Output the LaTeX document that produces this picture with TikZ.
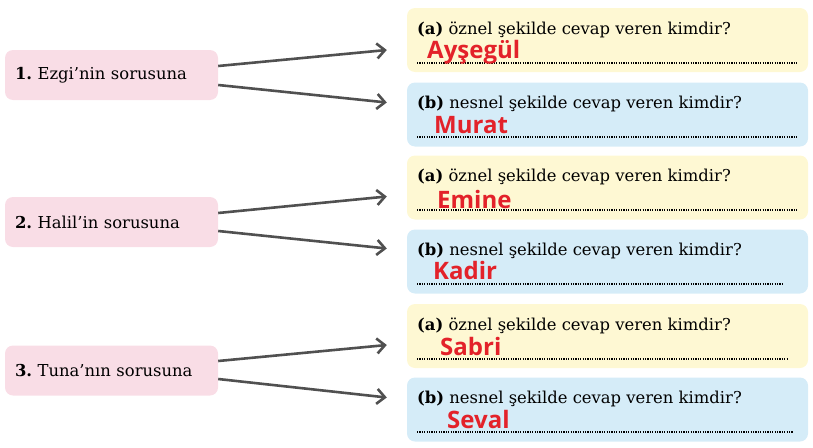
\documentclass[tikz,border=0pt]{standalone}
\usepackage{fontspec}
\setmainfont{DejaVu Serif}
\newfontfamily\answerfont{Open Sans}
\usepackage{xcolor}
\usetikzlibrary{arrows.meta}
\frenchspacing

\definecolor{pinkbox}{HTML}{F9DDE6}
\definecolor{yellowbox}{HTML}{FEF8D3}
\definecolor{bluebox}{HTML}{D5ECF8}
\definecolor{arrowgray}{HTML}{505050}
\definecolor{answerred}{HTML}{E3222A}

\begin{document}
\begin{tikzpicture}[x=1pt, y=-1pt,
  every node/.style = {inner sep=0pt, font=\fontsize{16.4}{19}\selectfont},
  namebox/.style = {shape=rectangle, rounded corners=8pt, fill=pinkbox, text width=193pt, inner xsep=10pt, align=left, minimum height=50pt},
  abox/.style = {shape=rectangle, rounded corners=8pt, fill=yellowbox, minimum width=401pt, minimum height=64pt},
  bbox/.style = {abox, fill=bluebox},
  question/.style = {anchor=base west},
  answer/.style = {anchor=base west, text=answerred, font=\answerfont\bfseries\fontsize{24}{27}\selectfont},
  dotline/.style = {line width=1.3pt, dash pattern=on 1.2pt off 1.2pt},
  arrow/.style = {draw=arrowgray, line width=2.6pt, -{Straight Barb[length=8pt, width=15pt]}},
]
\useasboundingbox (0,0) rectangle (813,447);

% left column
\node[namebox] (ezgi) at (111.5,75) {\textbf{1.} Ezgi’nin sorusuna};
\node[namebox] (halil) at (111.5,222) {\textbf{2.} Halil’in sorusuna};
\node[namebox] (tuna) at (111.5,370.5) {\textbf{3.} Tuna’nın sorusuna};

% right column
\node[abox] (ezgiA) at (607.5,40) {};
\node[bbox] (ezgiB) at (607.5,114.5) {};
\node[abox] (halilA) at (607.5,187.5) {};
\node[bbox] (halilB) at (607.5,261.5) {};
\node[abox] (tunaA) at (607.5,336) {};
\node[bbox] (tunaB) at (607.5,409.5) {};

\node[question] (ezgiAq) at (417,34) {\textbf{(a)} öznel şekilde cevap veren kimdir?};
\node[question] (ezgiBq) at (417,108) {\textbf{(b)} nesnel şekilde cevap veren kimdir?};
\node[question] (halilAq) at (417,181) {\textbf{(a)} öznel şekilde cevap veren kimdir?};
\node[question] (halilBq) at (417,255) {\textbf{(b)} nesnel şekilde cevap veren kimdir?};
\node[question] (tunaAq) at (417,330) {\textbf{(a)} öznel şekilde cevap veren kimdir?};
\node[question] (tunaBq) at (417,403) {\textbf{(b)} nesnel şekilde cevap veren kimdir?};

\draw[dotline] (417,63) -- (797,63);
\draw[dotline] (417,137) -- (797,137);
\draw[dotline] (417,210) -- (797,210);
\draw[dotline] (417,284) -- (782,284);
\draw[dotline] (417,359) -- (788,359);
\draw[dotline] (417,432) -- (793,432);

\node[answer] (ezgiAans) at (427,58) {Ayşegül};
\node[answer] (ezgiBans) at (434,133) {Murat};
\node[answer] (halilAans) at (437,208) {Emine};
\node[answer] (halilBans) at (433,279) {Kadir};
\node[answer] (tunaAans) at (440,355) {Sabri};
\node[answer] (tunaBans) at (447,428) {Seval};

% arrows
\draw[arrow] (ezgi.east |- 0,66) -- ([xshift=-20pt,yshift=-10pt]ezgiA.west);
\draw[arrow] (ezgi.east |- 0,85) -- ([xshift=-20pt,yshift=12pt]ezgiB.west);
\draw[arrow] (halil.east |- 0,213) -- ([xshift=-20pt,yshift=-9pt]halilA.west);
\draw[arrow] (halil.east |- 0,231) -- ([xshift=-20pt,yshift=13pt]halilB.west);
\draw[arrow] (tuna.east |- 0,361) -- ([xshift=-20pt,yshift=-9pt]tunaA.west);
\draw[arrow] (tuna.east |- 0,379) -- ([xshift=-20pt,yshift=12pt]tunaB.west);
\end{tikzpicture}
\end{document}
